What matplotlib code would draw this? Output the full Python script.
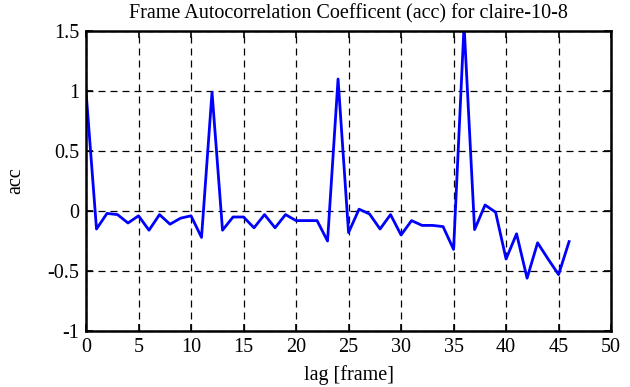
import matplotlib
matplotlib.use("Agg")
import matplotlib.pyplot as plt

# lag in frames and autocorrelation values
lag = list(range(47))
acc = [1.00, -0.15, -0.02, -0.03, -0.10, -0.04, -0.16, -0.03, -0.11, -0.06,
       -0.04, -0.22, 0.99, -0.16, -0.05, -0.05, -0.14, -0.03, -0.14, -0.03,
       -0.08, -0.08, -0.08, -0.25, 1.10, -0.18, 0.015, -0.025, -0.15, -0.03,
       -0.20, -0.08, -0.12, -0.12, -0.13, -0.32, 1.55, -0.155, 0.05, -0.01,
       -0.40, -0.19, -0.56, -0.265, -0.40, -0.53, -0.255]

xticks = list(range(0, 51, 5))
yticks = [-1, -0.5, 0, 0.5, 1, 1.5]
ytick_labels = ["-1", "-0.5", "0", "0.5", "1", "1.5"]

plt.rcParams["font.family"] = ["Liberation Serif", "DejaVu Serif"]

fig = plt.figure(figsize=(6.3, 3.87), dpi=100)
ax = fig.add_axes([0.1365, 0.1447, 0.8335, 0.7752])

ax.plot(lag, acc, color="#0000ff", linewidth=2)

ax.set_xlim(0, 50)
ax.set_ylim(-1, 1.5)
ax.set_xticks(xticks)
ax.set_yticks(yticks)
ax.set_yticklabels(ytick_labels)
ax.grid(True, color="black", linestyle=(0, (5.6, 4)), linewidth=0.9)
ax.tick_params(direction="in", top=True, right=True, length=5, width=1.2,
               labelsize=14.5, pad=5)
for s in ax.spines.values():
    s.set_linewidth(1.8)

ax.set_title("Frame Autocorrelation Coefficent (acc) for claire-10-8",
             fontsize=14.5, pad=9)
ax.set_xlabel("lag [frame]", fontsize=14.5, labelpad=6)
ax.set_ylabel("acc", fontsize=14.5, labelpad=16)

fig.savefig("out.png", dpi=100)
